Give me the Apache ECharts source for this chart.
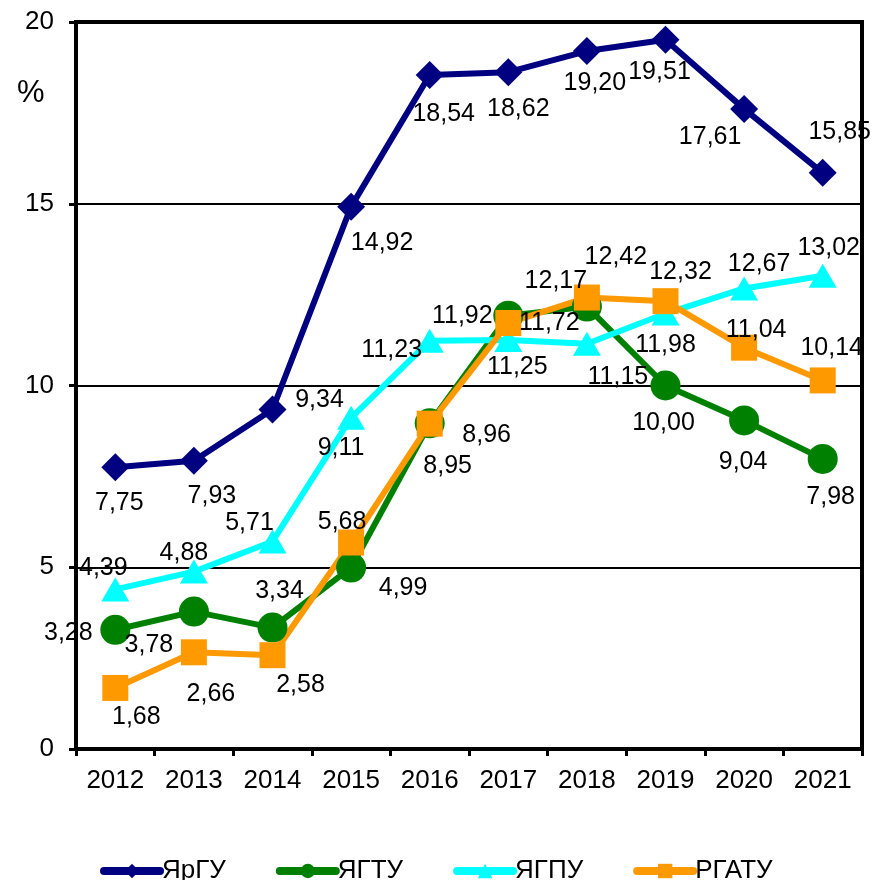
<!DOCTYPE html>
<html>
<head>
<meta charset="utf-8">
<script src="https://cdn.jsdelivr.net/npm/echarts@6/dist/echarts.min.js"></script>
<style>html,body{margin:0;padding:0;background:#fff}#c{width:872px;height:880px}</style>
</head>
<body>
<div id="c"></div>
<script>
const years = ['2012','2013','2014','2015','2016','2017','2018','2019','2020','2021'];
const seriesNames = ['ЯрГУ','ЯГТУ','ЯГПУ','РГАТУ'];
const yarsu = [7.75, 7.93, 9.34, 14.92, 18.54, 18.62, 19.20, 19.51, 17.61, 15.85];
const ygtu  = [3.28, 3.78, 3.34, 4.99, 8.96, 11.92, 12.17, 10.00, 9.04, 7.98];
const ygpu  = [4.39, 4.88, 5.71, 9.11, 11.23, 11.25, 11.15, 11.98, 12.67, 13.02];
const rgatu = [1.68, 2.66, 2.58, 5.68, 8.95, 11.72, 12.42, 12.32, 11.04, 10.14];
const yTicks = [0, 5, 10, 15, 20];

// label placement offsets (style only)
const offYarsu = [[4,36],[18,35],[47,-9],[31,36],[14,39],[10,37],[8,32],[-6,32],[-34,28],[17,-41]];
const offYgtu  = [[-47,3],[-45,34],[7,-36],[52,20],[57,12],[-46,0],[-31,-26],[-2,38],[-1,42],[8,38]];
const offYgpu  = [[-12,-21],[-10,-19],[-23,-18],[-10,30],[-38,9],[9,27],[31,33],[0,32],[15,-24],[6,-28]];
const offRgatu = [[21,29],[17,42],[28,30],[-9,-20],[18,42],[41,0],[29,-40],[15,-29],[12,-18],[9,-32]];

const FONT = '"Liberation Sans", Arial, sans-serif';
function fmt(v){ return v.toFixed(2).replace('.', ','); }
function items(vals, offs){
  return vals.map((v,i)=>({value:v, label:{offset:offs[i]}}));
}
function mk(name, vals, offs, color, symbol, size){
  return {
    name, type:'line', data: items(vals, offs),
    symbol, symbolSize: size,
    lineStyle:{color, width:6},
    itemStyle:{color},
    label:{show:true, position:'inside', align:'center', verticalAlign:'middle',
      color:'#000', fontFamily:FONT, fontSize:25,
      formatter:p=>fmt(p.value)},
    emphasis:{disabled:true}
  };
}
const chart = echarts.init(document.getElementById('c'));
chart.setOption({
  animation:false,
  title:{text:'%', left:12, top:73, textStyle:{fontFamily:FONT, fontSize:31, fontWeight:'normal', color:'#000'}},
  grid:{left:76, right:10, top:22, bottom:131, show:true, borderColor:'#000', borderWidth:4, backgroundColor:'transparent'},
  legend:{
    data: seriesNames, left:95, top:853, itemWidth:56, itemHeight:18, itemGap:50,
    lineStyle:{width:8, cap:'round'},
    textStyle:{fontFamily:FONT, fontSize:26, color:'#000', padding:[0,0,0,-3]}
  },
  xAxis:{
    type:'category', data: years, boundaryGap:true,
    axisLine:{lineStyle:{color:'#000', width:4}},
    axisTick:{show:true, length:7, lineStyle:{color:'#000', width:3}},
    axisLabel:{fontFamily:FONT, fontSize:26, color:'#000', margin:19},
    splitLine:{show:false}
  },
  yAxis:{
    type:'value', min:yTicks[0], max:yTicks[yTicks.length-1], interval:5,
    axisLine:{show:true, lineStyle:{color:'#000', width:4}},
    axisTick:{show:true, length:7, lineStyle:{color:'#000', width:3}},
    axisLabel:{fontFamily:FONT, fontSize:26, color:'#000', margin:22},
    splitLine:{show:true, lineStyle:{color:'#000', width:2}}
  },
  series:[
    mk(seriesNames[0], yarsu, offYarsu, '#000080', 'diamond', 28),
    mk(seriesNames[1], ygtu, offYgtu, '#008000', 'circle', 30),
    mk(seriesNames[2], ygpu, offYgpu, '#00FFFF', 'triangle', [28,24]),
    mk(seriesNames[3], rgatu, offRgatu, '#FF9900', 'rect', 26)
  ]
});
</script>
</body>
</html>
